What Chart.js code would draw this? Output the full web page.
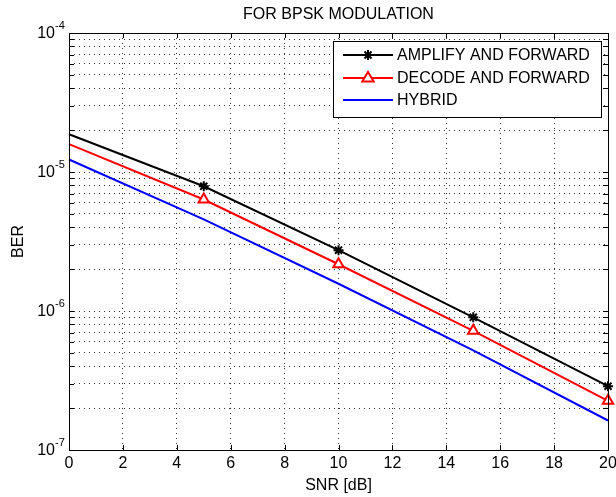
<!DOCTYPE html>
<html>
<head>
<meta charset="utf-8">
<script src="https://cdn.jsdelivr.net/npm/chart.js@4/dist/chart.umd.min.js"></script>
<style>
  body { margin: 0; background: #fff; }
  #wrap { width: 616px; height: 497px; }
</style>
</head>
<body>
<div id="wrap"><canvas id="myChart" width="616" height="497"></canvas></div>
<script>
// values
const snrDb = [0, 5, 10, 15, 20];
const berAF = [1.87e-5, 7.9e-6, 2.74e-6, 9.0e-7, 2.88e-7];
const berDF = [1.585e-5, 6.34e-6, 2.17e-6, 7.2e-7, 2.26e-7];
const berHybrid = [1.23e-5, 4.56e-6, 1.57e-6, 5.2e-7, 1.63e-7];
const xTickValues = [0, 2, 4, 6, 8, 10, 12, 14, 16, 18, 20];
const yDecades = [-4, -5, -6, -7];
const seriesNames = ["AMPLIFY AND FORWARD", "DECODE AND FORWARD", "HYBRID"];
const titleText = "FOR BPSK MODULATION";
const xTitle = "SNR [dB]";
const yTitle = "BER";

const FONT = '"Liberation Sans", Arial, sans-serif';
const FS = 16;

// gridline values 1..9 x 10^k between the decades
const yGridValues = [];
for (let e = -7; e < -4; e++) {
  for (let s = 1; s <= 9; s++) yGridValues.push(s * Math.pow(10, e));
}
yGridValues.push(1e-4);

function toPoints(ys) {
  return snrDb.map((x, i) => ({ x: x, y: ys[i] }));
}

function drawStar(ctx, x, y, r) {
  ctx.beginPath();
  ctx.moveTo(x - r, y); ctx.lineTo(x + r, y);
  ctx.moveTo(x, y - r); ctx.lineTo(x, y + r);
  const d = r * 0.7;
  ctx.moveTo(x - d, y - d); ctx.lineTo(x + d, y + d);
  ctx.moveTo(x - d, y + d); ctx.lineTo(x + d, y - d);
  ctx.stroke();
}
function drawTriangle(ctx, x, y, r) {
  ctx.beginPath();
  ctx.moveTo(x, y - r);
  ctx.lineTo(x + r * 0.95, y + r * 0.6);
  ctx.lineTo(x - r * 0.95, y + r * 0.6);
  ctx.closePath();
  ctx.fillStyle = "#fff";
  ctx.fill();
  ctx.stroke();
}

const decor = {
  id: "decor",
  afterDraw(chart) {
    const ctx = chart.ctx;
    const area = chart.chartArea;
    const xs = chart.scales.x;
    const ys = chart.scales.y;
    ctx.save();

    // box round the plot
    ctx.strokeStyle = "#000";
    ctx.lineWidth = 1;
    ctx.setLineDash([]);
    ctx.strokeRect(Math.round(area.left) + 0.5, Math.round(area.top) + 0.5,
      Math.round(area.right - area.left), Math.round(area.bottom - area.top));

    // inner tick marks
    ctx.beginPath();
    ys.ticks.forEach((t) => {
      const py = Math.round(ys.getPixelForValue(t.value)) + 0.5;
      ctx.moveTo(area.left, py); ctx.lineTo(area.left + 5, py);
      ctx.moveTo(area.right, py); ctx.lineTo(area.right - 5, py);
    });
    xs.ticks.forEach((t) => {
      const px = Math.round(xs.getPixelForValue(t.value)) + 0.5;
      ctx.moveTo(px, area.bottom); ctx.lineTo(px, area.bottom - 5);
      ctx.moveTo(px, area.top); ctx.lineTo(px, area.top + 5);
    });
    ctx.stroke();

    // y tick labels 10^e
    ctx.fillStyle = "#000";
    yDecades.forEach((e) => {
      const py = ys.getPixelForValue(Math.pow(10, e));
      ctx.font = FS + "px " + FONT;
      ctx.textAlign = "right";
      ctx.textBaseline = "middle";
      ctx.fillText("10", 55, py + 1);
      ctx.font = "11px " + FONT;
      ctx.textAlign = "left";
      ctx.textBaseline = "alphabetic";
      ctx.fillText(String(e), 55, py - 4);
    });

    // x tick labels
    ctx.font = FS + "px " + FONT;
    ctx.textAlign = "center";
    ctx.textBaseline = "middle";
    xTickValues.forEach((v) => {
      ctx.fillText(String(v), xs.getPixelForValue(v), 464);
    });

    // titles
    ctx.fillText(titleText, (area.left + area.right) / 2, 15);
    ctx.fillText(xTitle, (area.left + area.right) / 2, 486);
    ctx.save();
    ctx.translate(19, (area.top + area.bottom) / 2);
    ctx.rotate(-Math.PI / 2);
    ctx.fillText(yTitle, 0, 0);
    ctx.restore();

    // legend
    const lx = 333, ly = 41, lw = 268, lh = 76;
    ctx.fillStyle = "#fff";
    ctx.fillRect(lx, ly, lw, lh);
    ctx.strokeStyle = "#000";
    ctx.lineWidth = 1;
    ctx.strokeRect(lx + 0.5, ly + 0.5, lw, lh);
    const rows = [55, 78, 100];
    chart.data.datasets.forEach((ds, i) => {
      const ry = rows[i];
      ctx.strokeStyle = ds.borderColor;
      ctx.lineWidth = 2;
      ctx.beginPath();
      ctx.moveTo(343, ry); ctx.lineTo(393, ry);
      ctx.stroke();
      if (i === 0) drawStar(ctx, 368, ry, 5);
      if (i === 1) drawTriangle(ctx, 368, ry, 6);
      ctx.fillStyle = "#000";
      ctx.font = FS + "px " + FONT;
      ctx.textAlign = "left";
      ctx.textBaseline = "middle";
      ctx.fillText(seriesNames[i], 397, ry + 1);
    });
    ctx.restore();
  },
};

const markerRadius = snrDb.map((x) => (x === 0 ? 0 : 5));
const triRadius = snrDb.map((x) => (x === 0 ? 0 : 6));

new Chart(document.getElementById("myChart"), {
  type: "line",
  data: {
    datasets: [
      {
        label: seriesNames[0],
        data: toPoints(berAF),
        borderColor: "#000000",
        borderWidth: 2,
        pointStyle: "star",
        pointRadius: markerRadius,
        pointBorderColor: "#000000",
        pointBorderWidth: 2,
        pointBackgroundColor: "#000000",
        tension: 0,
        clip: false,
      },
      {
        label: seriesNames[1],
        data: toPoints(berDF),
        borderColor: "#ff0000",
        borderWidth: 2,
        pointStyle: "triangle",
        pointRadius: triRadius,
        pointBorderColor: "#ff0000",
        pointBorderWidth: 2,
        pointBackgroundColor: "#ffffff",
        tension: 0,
        clip: false,
      },
      {
        label: seriesNames[2],
        data: toPoints(berHybrid),
        borderColor: "#0000ff",
        borderWidth: 2,
        pointRadius: 0,
        tension: 0,
        clip: false,
      },
    ],
  },
  options: {
    responsive: false,
    animation: false,
    layout: { padding: { top: 33, right: 7, left: 0, bottom: 0 } },
    plugins: {
      legend: { display: false },
      title: { display: false },
      tooltip: { enabled: false },
    },
    scales: {
      x: {
        type: "linear",
        min: 0,
        max: 20,
        ticks: { stepSize: 2, display: false },
        grid: { color: "#333", lineWidth: 1, drawTicks: false },
        border: { display: false, dash: [1, 4] },
        afterFit(scale) { scale.height = 47; },
      },
      y: {
        type: "logarithmic",
        min: 1e-7,
        max: 1e-4,
        ticks: { display: false, autoSkip: false },
        grid: { color: "#333", lineWidth: 1, drawTicks: false },
        border: { display: false, dash: [1, 4] },
        afterBuildTicks(scale) {
          scale.ticks = yGridValues.map((v) => ({ value: v }));
        },
        afterFit(scale) { scale.width = 69; },
      },
    },
  },
  plugins: [decor],
});
</script>
</body>
</html>
